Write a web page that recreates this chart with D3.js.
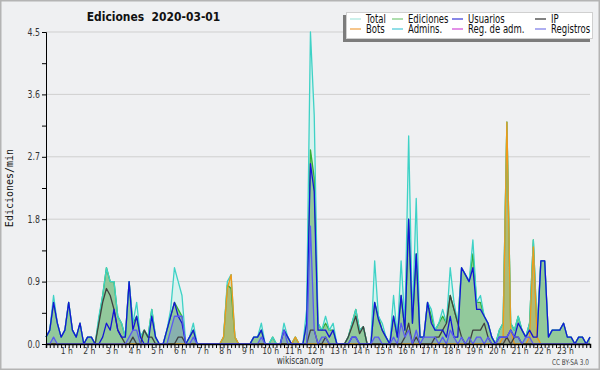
<!DOCTYPE html>
<html>
<head>
<meta charset="utf-8">
<script src="https://cdn.jsdelivr.net/npm/d3@7"></script>
<style>
  body { margin: 0; background: #eff0f2; }
  svg { display: block; }
  text { font-family: "DejaVu Sans", sans-serif; }
</style>
</head>
<body>
<svg id="chart" width="600" height="370"></svg>
<script>
// values per 10 minutes, 00:00 .. 24:00 (145 points)
const total = [
  .1,.2,.7,.3,.1,.2, .6,.2,.1,.3,0,.1, .1,0,.4,.7,1.1,.9, .9,.4,.3,.1,.9,.3,
  .6,.1,.2,.1,.5,.1, 0,0,.2,.5,1.1,.9, .7,0,.1,.3,0,0, 0,0,0,0,0,.1,
  .9,1.0,.1,0,0,0, 0,.1,.1,.3,0,0, .1,0,0,.3,.1,0, .1,0,0,.5,4.5,3.3,
  .3,.2,.4,.2,.3,0, 0,0,.1,.3,.5,.2, .25,0,0,1.2,.4,.3, .1,0,.7,.1,1.2,.3,
  3.0,.35,2.1,.1,.1,.6, .5,.2,.3,.5,.3,1.1, .6,.3,1.1,1.0,.9,1.5, .6,.7,.4,.3,.1,0,
  .2,.3,3.2,.3,.2,.4, .2,.1,.3,1.5,.2,1.2, 1.2,.1,.2,.2,.2,.3, .1,.1,0,.1,.1,0, .1
];
const ediciones = [
  .1,.2,.6,.3,.1,.2, .6,.2,.1,.3,0,.1, .1,0,.35,.7,1.1,.9, .9,.4,.3,.1,.9,.3,
  .4,.1,.2,.1,.5,.1, 0,0,.2,.4,.6,.5, .4,0,.1,.2,0,0, 0,0,0,0,0,.1,
  .85,.8,.1,0,0,0, 0,.1,.1,.2,0,0, .1,0,0,.2,.1,0, .1,0,0,.3,2.8,2.4,
  .3,.2,.3,.2,.2,0, 0,0,.1,.3,.5,.2, .25,0,0,.6,.4,.2, .1,0,.4,.1,.7,.2,
  1.8,.3,1.3,.1,.1,.6, .4,.2,.3,.4,.3,.7, .5,.3,1.1,1.0,.9,1.3, .6,.6,.4,.3,.1,0,
  .2,.3,3.2,.3,.2,.4, .2,.1,.3,1.5,.2,1.2, 1.2,.1,.2,.2,.2,.3, .1,.1,0,.1,.1,0, .1
];
const usuarios = [
  .1,.2,.6,.3,.1,.2, .6,.2,.1,.3,0,.1, .1,0,0,.1,.3,.2, .5,.2,.1,.1,.9,.2,
  .4,.1,0,0,.4,.1, 0,0,.2,.4,.6,.4, .3,0,.1,.2,0,0, 0,0,0,0,0,0,
  0,0,0,0,0,0, 0,.1,.1,.2,0,0, 0,0,0,.2,.1,0, 0,0,0,.3,2.6,2.2,
  .2,.2,.2,.1,.2,0, 0,0,0,.1,.1,0, 0,0,0,.6,.35,.2, .1,0,.4,.1,.7,.2,
  1.8,.3,1.3,.1,.1,.6, .3,.2,.2,.2,.1,.4, .1,.1,1.1,1.0,.9,1.1, .5,.5,.4,.3,.1,0,
  .1,.1,.1,.2,.1,.3, .2,.1,.2,.1,.1,1.2, 1.2,.1,.2,.2,.2,.3, .1,.1,0,.1,.1,0, .1
];
const ip = [
  0,0,0,0,0,0, 0,0,0,0,0,0, 0,0,.3,.6,.8,.7, .5,.2,.1,0,0,.1,
  0,0,.2,.1,.1,0, 0,0,0,0,0,.1, .1,0,0,0,0,0, 0,0,0,0,0,0,
  0,0,0,0,0,0, 0,0,0,0,0,0, 0,0,0,0,0,0, 0,0,0,0,.2,.2,
  0,0,.1,0,0,0, 0,0,.1,.25,.4,.15, .25,0,0,0,0,0, 0,0,0,0,0,.1,
  .3,0,.1,0,0,0, 0,.1,.1,.2,.3,.7, .5,.3,.1,0,0,.2, .2,.2,.3,.1,0,0,
  0,0,.1,0,.1,.1, 0,0,0,0,0,0, 0,0,0,0,0,0, 0,0,0,0,0,0, 0
];
const bots = [
  0,0,0,0,0,0, 0,0,0,0,0,0, 0,0,0,0,0,0, 0,0,0,0,0,0,
  0,0,0,0,0,0, 0,0,0,0,0,0, 0,0,0,0,0,0, 0,0,0,0,0,.1,
  .8,1.0,.1,0,0,0, 0,0,0,0,0,0, 0,0,0,0,0,0, .1,0,0,0,0,0,
  0,0,0,0,0,0, 0,0,0,0,0,0, 0,0,0,0,0,0, 0,0,0,0,0,0,
  0,0,0,0,0,0, 0,0,0,0,0,0, 0,0,0,0,0,0, 0,0,0,0,0,0,
  0,.1,3.2,.2,0,0, 0,0,.1,1.4,.1,0, 0,0,0,0,0,0, 0,0,0,0,0,0, 0
];
const registros = [
  0,0,.1,0,0,0, 0,0,0,0,0,0, 0,0,0,0,0,0, 0,0,0,0,.1,.2,
  .2,0,0,0,0,0, 0,0,0,.2,.4,.4, .4,0,0,.1,0,0, 0,0,0,0,0,0,
  0,0,0,0,0,0, 0,0,0,.1,0,0, 0,0,0,.2,0,0, 0,0,0,0,1.7,.2,
  0,.1,.1,0,0,0, 0,0,0,.1,.1,0, 0,0,0,.1,.1,0, 0,0,.1,0,.3,.1,
  .2,0,.2,0,.1,.1, .1,.1,0,.1,0,.2, .1,0,.1,0,.1,0, .1,.1,0,.1,0,0,
  .1,.1,.1,.2,.1,.1, 0,.1,.1,0,0,0, 0,0,0,0,0,0, 0,0,0,0,0,0, 0
];
const hourLabels = d3.range(1, 24).map(h => h + " h");
const yTicks = d3.range(0, 11).map(i => i * 0.45);
const legendNames = ["Total", "Ediciones", "Usuarios", "IP", "Bots", "Admins.", "Reg. de adm.", "Registros"];
const legendColors = ["#a8e6de", "#78c878", "#3838d8", "#303030", "#f0a040", "#48c8d8", "#d048d8", "#7878e8"];

const svg = d3.select("#chart");
const mLeft = 46, mRight = 590, mTop = 32, mBottom = 344;

// narrow text: the reference font is condensed, so scale it horizontally
function narrowText(parent, tx, ty, str, k, size, anchor) {
  return parent.append("g").attr("transform", "translate(" + tx + "," + ty + ") scale(" + k + ",1)")
    .append("text").attr("text-anchor", anchor || "start").attr("font-size", size).text(str);
}

// outer frame
svg.append("rect").attr("x", 0.5).attr("y", 0.5).attr("width", 599).attr("height", 369)
  .attr("fill", "#eff0f2").attr("stroke", "#b4b4b4").attr("stroke-width", 2);

const x = d3.scaleLinear().domain([0, 144]).range([mLeft, mRight]);
const y = d3.scaleLinear().domain([0, 4.5]).range([mBottom, mTop]);

// grid
svg.append("g").selectAll("line")
  .data(yTicks.filter((d, i) => i % 2 == 0 && i > 0))
  .enter().append("line")
  .attr("x1", mLeft).attr("x2", mRight)
  .attr("y1", d => y(d)).attr("y2", d => y(d))
  .attr("stroke", "#cfcfcf").attr("stroke-width", 1);

const area = arr => d3.area().x((d, i) => x(i)).y0(y(0)).y1(d => y(d))(arr);
const line = arr => d3.line().x((d, i) => x(i)).y(d => y(d))(arr);

// filled series
svg.append("path").attr("d", area(total)).attr("fill", "#d9f2ef");
svg.append("path").attr("d", area(ediciones)).attr("fill", "#92c99b");
svg.append("path").attr("d", area(bots)).attr("fill", "#e0a030").attr("fill-opacity", 0.35);
svg.append("path").attr("d", area(registros)).attr("fill", "#6a6ae8").attr("fill-opacity", 0.25);

// lines
const lines = [
  [ediciones, "#34b034"],
  [total, "#3ed2c6"],
  [bots, "#f09a18"],
  [ip, "#404040"],
  [usuarios, "#1414d6"],
  [registros, "#5a5af0"]
];
lines.forEach(([arr, col]) => {
  svg.append("path").attr("d", line(arr)).attr("fill", "none")
    .attr("stroke", col).attr("stroke-width", 1.3).attr("stroke-linejoin", "round");
});

// y axis (labels drawn separately, narrow)
const yAxis = svg.append("g").attr("transform", "translate(" + mLeft + ",0)")
  .call(d3.axisLeft(y).tickValues(yTicks).tickSize(4).tickFormat(""));
yAxis.select(".domain").attr("stroke", "#000");
yAxis.selectAll("line").attr("stroke", "#000");
const yLab = svg.append("g");
yTicks.filter((d, i) => i % 2 == 0).forEach(d => {
  narrowText(yLab, mLeft - 6, y(d) + 3.5, d3.format(".1f")(d), 0.78, 10, "end").attr("fill", "#333");
});

// x axis, one tick per 10 minutes
const xAxis = svg.append("g").attr("transform", "translate(0," + mBottom + ")")
  .call(d3.axisBottom(x).tickValues(d3.range(0, 145)).tickSize(4).tickFormat(""));
xAxis.select(".domain").attr("stroke", "#000").attr("stroke-width", 1.5);
xAxis.selectAll("line").attr("stroke", "#000");

const hl = svg.append("g");
hourLabels.forEach((d, i) => {
  narrowText(hl, x((i + 1) * 6) - 2, 354, d, 0.8, 9.5, "middle").attr("fill", "#333");
});

// titles
narrowText(svg, 153.5, 21, "Ediciones  2020-03-01", 0.86, 12.5, "middle")
  .attr("font-weight", "bold").attr("fill", "#111").attr("xml:space", "preserve");

svg.append("text").attr("transform", "translate(13,188) rotate(-90)")
  .attr("text-anchor", "middle").attr("font-size", 10).attr("fill", "#111")
  .style("font-family", "'DejaVu Sans Mono', monospace")
  .text("Ediciones/min");

narrowText(svg, 300, 364, "wikiscan.org", 0.75, 10, "middle").attr("fill", "#333");
narrowText(svg, 589, 365, "CC BY-SA 3.0", 0.72, 8, "end").attr("fill", "#444");

// legend
const lg = svg.append("g");
lg.append("rect").attr("x", 343).attr("y", 15).attr("width", 247).attr("height", 27).attr("fill", "#7c7c7c");
lg.append("rect").attr("x", 346.5).attr("y", 12.5).attr("width", 246).attr("height", 26)
  .attr("fill", "#fff").attr("stroke", "#d0d0d0");
const colX = [350, 392, 452, 535];
legendNames.forEach((name, i) => {
  const cx = colX[i % 4], cy = i < 4 ? 19 : 29;
  lg.append("line").attr("x1", cx).attr("x2", cx + 11).attr("y1", cy).attr("y2", cy)
    .attr("stroke", legendColors[i]).attr("stroke-width", 1.2);
  narrowText(lg, cx + 16, cy + 4, name, 0.74, 11.5, "start").attr("fill", "#111");
});
</script>
</body>
</html>
